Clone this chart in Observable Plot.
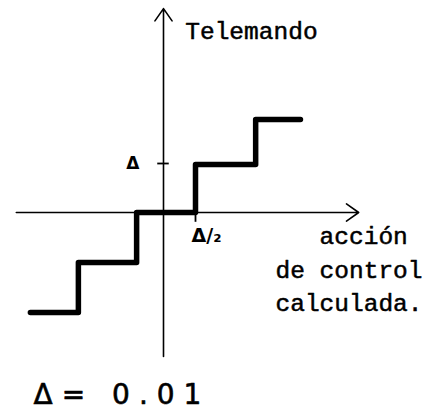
<!DOCTYPE html>
<html><head><meta charset="utf-8">
<script src="https://cdn.jsdelivr.net/npm/d3@7"></script>
<script src="https://cdn.jsdelivr.net/npm/@observablehq/plot@0.6"></script>
<style>body{margin:0;background:#fff} svg{display:block}</style>
</head><body><div id="chart"></div>
<script>
// Quantizer staircase (units of Δ)
const stepX = [-2.08, -1.33, -0.42, 0.5, 1.44, 2.14];   // breakpoints on the x axis
const stepLevels = [-2.04, -1.02, 0, 0.98, 1.9];        // output levels
const axisXExtent = [-2.30, 3.05];
const axisYExtent = [-2.94, 4.16];
const tickY = [1];          // Δ on the vertical axis
const tickX = [0.5];        // Δ/2 on the horizontal axis
const yAxisTitle = "Telemando";
const xAxisTitle = ["\u00a0\u00a0\u00a0acción", "de control", "calculada."];
const note = "Δ= 0.01";

const points = stepLevels.map((v, i) => ({x: stepX[i], y: v}));
points.push({x: stepX[stepX.length - 1], y: stepLevels[stepLevels.length - 1]});

const mono = "'Liberation Mono', 'DejaVu Sans Mono', monospace";
const hand = "'DejaVu Sans', sans-serif";

const chart = Plot.plot({
  width: 434, height: 414, margin: 0,
  x: {domain: [-163/64, 271/64], axis: null},
  y: {domain: [-202/49, 212/49], axis: null},
  marks: [
    Plot.arrow([{x1: axisXExtent[0], y1: 0, x2: axisXExtent[1], y2: 0}],
      {x1: "x1", y1: "y1", x2: "x2", y2: "y2", stroke: "black", strokeWidth: 1.6, headLength: 14, headAngle: 70}),
    Plot.arrow([{x1: 0, y1: axisYExtent[0], x2: 0, y2: axisYExtent[1]}],
      {x1: "x1", y1: "y1", x2: "x2", y2: "y2", stroke: "black", strokeWidth: 1.6, headLength: 14, headAngle: 70}),
    Plot.ruleY(tickY, {y: d => d, x1: -0.09, x2: 0.09, stroke: "black", strokeWidth: 1.8}),
    Plot.ruleX(tickX, {x: d => d, y1: 0, y2: -0.2, stroke: "black", strokeWidth: 1.8}),
    Plot.line(points, {x: "x", y: "y", curve: "step-after", stroke: "black", strokeWidth: 5.5,
      strokeLinejoin: "round", strokeLinecap: "round"}),
    Plot.text(["Δ"], {x: -0.48, y: tickY[0], text: d => d, fontFamily: hand, fontWeight: "bold",
      fontSize: 17, textAnchor: "middle", lineAnchor: "middle", fill: "black"}),
    Plot.text(["Δ/₂"], {x: tickX[0], y: -0.6, text: d => d, fontFamily: hand, fontWeight: "bold",
      fontSize: 19, textAnchor: "start", lineAnchor: "bottom", dx: -4, fill: "black"}),
    Plot.text([yAxisTitle], {x: 0.34, y: 3.55, text: d => d, fontFamily: mono, fontSize: 24.5,
      textAnchor: "start", lineAnchor: "bottom", fill: "black", stroke: "black", strokeWidth: 0.5}),
    Plot.text([xAxisTitle.join("\n")], {x: 1.75, y: -2.02, text: d => d, fontFamily: mono, fontSize: 24.5,
      textAnchor: "start", lineAnchor: "bottom", lineHeight: 1.375, fill: "black", stroke: "black", strokeWidth: 0.5}),
    Plot.text([note], {x: -2.03, y: -3.9, text: d => d, fontFamily: hand, fontSize: 28,
      textAnchor: "start", lineAnchor: "bottom", fill: "black", stroke: "black", strokeWidth: 0.6})
  ]
});
d3.select(chart).selectAll("text").filter(function() { return this.textContent === note; })
  .attr("letter-spacing", "9px");
document.getElementById("chart").append(chart);
</script></body></html>
